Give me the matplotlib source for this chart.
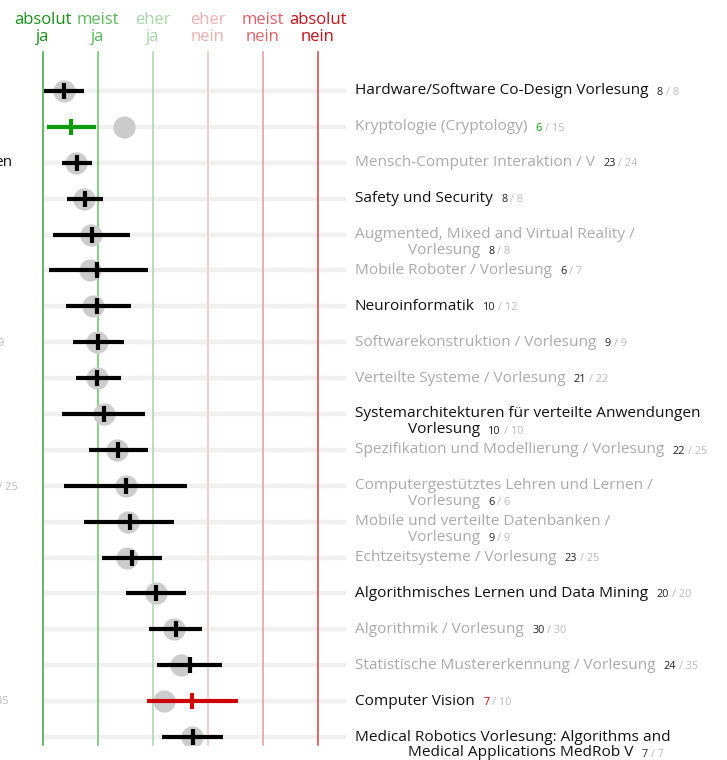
import matplotlib
matplotlib.use("Agg")
from matplotlib import pyplot as plt

plt.rcParams['font.family'] = ['Open Sans', 'DejaVu Sans']

# scale headers (1 = absolut ja ... 6 = absolut nein)
scale_top = ["absolut", "meist", "eher", "eher", "meist", "absolut"]
scale_bottom = ["ja", "ja", "ja", "nein", "nein", "nein"]
scale_text_col = ["#1a8c1a", "#5cb85c", "#a9d6a9", "#eeb0b0", "#d9626a", "#c0101a"]
scale_line_col = ["#3aa03a", "#66c066", "#a8d4a8", "#f2c0c0", "#e49a9a", "#cc4444"]

# one row per course: first line, second line (or None), dark label?
labels = [
    ("Hardware/Software Co-Design Vorlesung", None, True),
    ("Kryptologie (Cryptology)", None, False),
    ("Mensch-Computer Interaktion / V", None, False),
    ("Safety und Security", None, True),
    ("Augmented, Mixed and Virtual Reality /", "Vorlesung", False),
    ("Mobile Roboter / Vorlesung", None, False),
    ("Neuroinformatik", None, True),
    ("Softwarekonstruktion / Vorlesung", None, False),
    ("Verteilte Systeme / Vorlesung", None, False),
    ("Systemarchitekturen für verteilte Anwendungen", "Vorlesung", True),
    ("Spezifikation und Modellierung / Vorlesung", None, False),
    ("Computergestütztes Lehren und Lernen /", "Vorlesung", False),
    ("Mobile und verteilte Datenbanken /", "Vorlesung", False),
    ("Echtzeitsysteme / Vorlesung", None, False),
    ("Algorithmisches Lernen und Data Mining", None, True),
    ("Algorithmik / Vorlesung", None, False),
    ("Statistische Mustererkennung / Vorlesung", None, False),
    ("Computer Vision", None, True),
    ("Medical Robotics Vorlesung: Algorithms and", "Medical Applications MedRob V", True),
]
answered = [8, 6, 23, 8, 8, 6, 10, 9, 21, 10, 22, 6, 9, 23, 20, 30, 24, 7, 7]
total = [8, 15, 24, 8, 8, 7, 12, 9, 22, 10, 25, 6, 9, 25, 20, 30, 35, 10, 7]

mean = [1.38, 1.50, 1.62, 1.76, 1.885, 1.99, 1.99, 2.00, 1.99, 2.115,
        2.37, 2.50, 2.58, 2.62, 3.06, 3.41, 3.67, 3.715, 3.72]
low = [1.02, 1.07, 1.35, 1.44, 1.19, 1.115, 1.42, 1.54, 1.60, 1.35,
       1.84, 1.39, 1.75, 2.08, 2.51, 2.93, 3.08, 2.885, 3.16]
high = [1.745, 1.96, 1.885, 2.085, 2.58, 2.90, 2.60, 2.48, 2.42, 2.86,
        2.90, 3.62, 3.38, 3.16, 3.60, 3.885, 4.26, 4.55, 4.28]
others = [1.38, 2.47, 1.60, 1.75, 1.87, 1.855, 1.90, 1.99, 1.98, 2.10,
          2.35, 2.50, 2.55, 2.52, 3.05, 3.39, 3.51, 3.20, 3.715]
mark_col = ["#000000", "#0a9a0a"] + ["#000000"] * 15 + ["#cc0000", "#000000"]

W, H = 727, 760
fig = plt.figure(figsize=(W / 100, H / 100), dpi=100)
ax = fig.add_axes([43 / W, (H - 745) / H, 275 / W, 693 / H])
ax.set_xlim(1, 6)
row_px = 35.9
ax.set_ylim(18 + 8 / row_px, -39 / row_px)
ax.axis("off")

for k in range(6):
    ax.axvline(k + 1, color=scale_line_col[k], lw=1.1, zorder=1, clip_on=False)
    ax.text(k + 1, 1.0 + 7 / 693, scale_top[k] + "\n" + scale_bottom[k],
            transform=ax.get_xaxis_transform(), ha="center", va="bottom",
            color=scale_text_col[k], fontsize=12, linespacing=1.12)

x_end = 1 + (346 - 43) / 55
x_lab = 1 + (355 - 43) / 55
x_ind = 1 + (408 - 43) / 55

for i, (l1, l2, dark) in enumerate(labels):
    ax.plot([1, x_end], [i, i], color="#f0f0f0", lw=3.2, zorder=0,
            clip_on=False, solid_capstyle="butt")
    ax.plot(others[i], i, "o", ms=16, color="#cccccc", mec="none", zorder=2)
    ax.plot([low[i], high[i]], [i, i], color=mark_col[i], lw=3,
            solid_capstyle="butt", zorder=3)
    ax.plot(mean[i], i, "|", ms=12, mew=3, color=mark_col[i], zorder=4)

    tcol = "#111111" if dark else "#aaaaaa"
    t = ax.text(x_lab, i, l1, ha="left", va="center", color=tcol,
                fontsize=11.1, clip_on=False)
    if l2 is not None:
        t = ax.text(x_ind, i + 16 / row_px, l2, ha="left", va="center",
                    color=tcol, fontsize=11.1, clip_on=False)
    ncol = mark_col[i] if mark_col[i] != "#000000" else "#222222"
    a = ax.annotate(str(answered[i]), xy=(1, 0.42), xycoords=t,
                    xytext=(6, 0), textcoords="offset points",
                    ha="left", va="center", fontsize=7.8, color=ncol)
    ax.annotate("/ %d" % total[i], xy=(1, 0.5), xycoords=a,
                xytext=(2, 0), textcoords="offset points",
                ha="left", va="center", fontsize=7.8, color="#bbbbbb")

# cut-off labels of the neighbouring panel at the left edge (as in the original)
fig.text(12 / W, 1 - 162 / H, "en", ha="right", va="center",
         fontsize=11.1, color="#111111")
fig.text(4 / W, 1 - 343 / H, "9 / 9", ha="right", va="center",
         fontsize=7.8, color="#bbbbbb")
fig.text(18 / W, 1 - 488 / H, "22 / 25", ha="right", va="center",
         fontsize=7.8, color="#bbbbbb")
fig.text(8 / W, 1 - 702 / H, "24 / 35", ha="right", va="center",
         fontsize=7.8, color="#bbbbbb")

fig.savefig("out.png", dpi=100)
